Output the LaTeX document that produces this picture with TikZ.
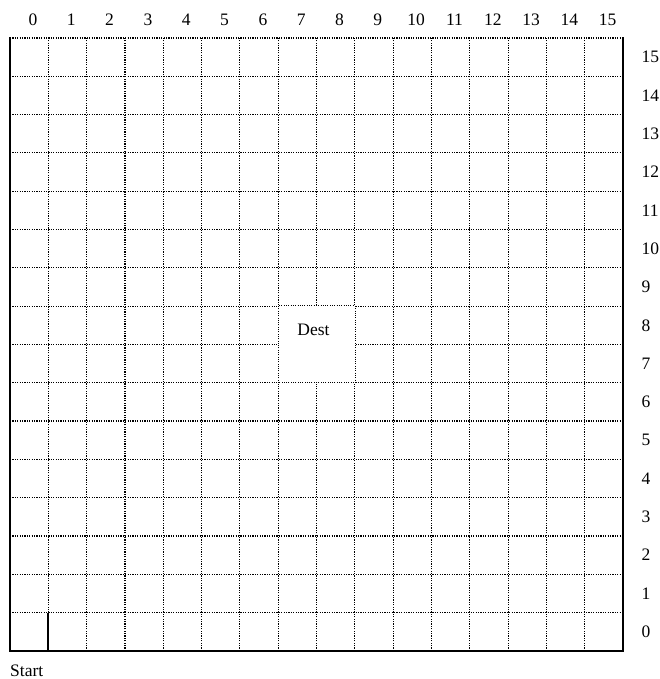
\documentclass[tikz,border=0pt]{standalone}
\usepackage{fontspec}
\setmainfont{Liberation Serif}
\begin{document}
\begin{tikzpicture}[x=38.3125pt,y=38.3125pt,
  gridline/.style={line width=1.2pt,dash pattern=on 1.1pt off 1.3pt},
  wall/.style={line width=2.6pt,line cap=rect,line join=miter},
  innerwall/.style={line width=1.8pt},
  destline/.style={line width=1pt,dash pattern=on 1pt off 1.3pt},
  destbox/.style={fill=white,minimum size=76.625pt,inner sep=0pt},
  lbl/.style={font=\fontsize{17.5}{20}\selectfont,inner sep=0pt}]
\useasboundingbox (-0.261,-0.731) rectangle (16.94,16.99);
% grid
\foreach \i in {1,...,15} {
  \draw[gridline] (\i,0) -- (\i,16);
  \draw[gridline] (0,\i) -- (16,\i);
}
\draw[gridline] (0,16) -- (16,16);
% destination
\fill[white] (6.97,6.97) rectangle (9.03,9.03);
\node[destbox] (dest) at (8,8) {};
\draw[destline] (dest.south west) rectangle (dest.north east);
\node[lbl] (destlabel) at (7.92,8.38) {Dest};
% walls
\draw[wall] (0,16) -- (0,0) -- (16,0) -- (16,16);
\draw[innerwall] (1,0) -- (1,1);
% column labels
\foreach \i in {0,...,15} {
  \node[lbl] (col\i) at (\i+0.6,16.47) {\i};
}
% row labels
\foreach \j in {0,...,15} {
  \node[lbl,anchor=west] (row\j) at (16.48,\j+0.5) {\j};
}
\node[lbl,anchor=west] (start) at (0,-0.52) {Start};
\end{tikzpicture}
\end{document}
